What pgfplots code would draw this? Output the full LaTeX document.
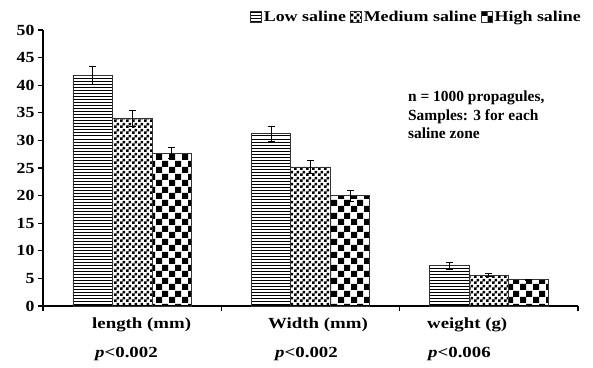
\documentclass[border=0pt]{standalone}
\usepackage{pgfplots}
\pgfplotsset{compat=1.18}
\usepackage{graphicx}
\usepackage{fontspec}
\setmainfont{Liberation Serif}
\usetikzlibrary{patterns}
\newcommand\sx[2]{\scalebox{#1}[1]{#2}}
\pgfdeclarepatternformonly{finecheck}{\pgfpointorigin}{\pgfpoint{6bp}{6bp}}{\pgfpoint{6bp}{6bp}}{%
  \pgfpathrectangle{\pgfpointorigin}{\pgfpoint{3bp}{3bp}}%
  \pgfpathrectangle{\pgfpoint{3bp}{3bp}}{\pgfpoint{3bp}{3bp}}%
  \pgfusepath{fill}}
\pgfdeclarepatternformonly{coarsecheck}{\pgfpointorigin}{\pgfpoint{13bp}{13bp}}{\pgfpoint{13bp}{13bp}}{%
  \pgfpathrectangle{\pgfpointorigin}{\pgfpoint{6.5bp}{6.5bp}}%
  \pgfpathrectangle{\pgfpoint{6.5bp}{6.5bp}}{\pgfpoint{6.5bp}{6.5bp}}%
  \pgfusepath{fill}}
\pgfdeclarepatternformonly{hlines}{\pgfpoint{0bp}{-0.5bp}}{\pgfpoint{4bp}{3bp}}{\pgfpoint{4bp}{3bp}}{%
  \pgfsetlinewidth{1bp}%
  \pgfpathmoveto{\pgfpoint{0bp}{0bp}}\pgfpathlineto{\pgfpoint{4bp}{0bp}}%
  \pgfusepath{stroke}}
\begin{document}
\begin{tikzpicture}[x=1bp,y=1bp]
\useasboundingbox (-43,-61) rectangle (550,306);
\begin{axis}[
  at={(0,0)}, anchor=south west,
  scale only axis, width=535bp, height=276bp,
  xmin=-0.5, xmax=2.5, ymin=0, ymax=50, clip=false,
  axis lines=left, axis line style={line width=1.3bp, -},
  ybar=0pt, bar width=0.2215,
  ytick={0,5,...,50},
  xtick={-0.5,0.5,1.5,2.5}, xticklabels={},
  yticklabel={\sx{1.15}{\pgfmathprintnumber{\tick}}},
  yticklabel style={font=\bfseries\fontsize{15.5}{16}\selectfont},
  /pgf/number format/assume math mode=true,
  tick align=outside, major tick length=5bp,
  tick style={line width=1.3bp, black},
  legend style={at={(1.015,1.01)}, anchor=south east, draw=none, fill=none,
    legend columns=-1, font=\bfseries\fontsize{15}{16}\selectfont,
    /tikz/every even column/.append style={column sep=2bp}},
  legend image code/.code={\draw[#1, line width=0.8bp] (0bp,-5bp) rectangle (11bp,6bp);},
  error bars/y dir=both, error bars/y explicit,
  error bars/error mark options={rotate=90, mark size=3.5bp, line width=0.8bp, black},
  error bars/error bar style={line width=0.8bp, black},
]
\addplot[draw=black!80, line width=0.8bp, pattern=hlines] coordinates {(0,41.8) +- (0,1.6) (1,31.2) +- (0,1.3) (2,7.3) +- (0,0.6)};
\addplot[draw=black!80, line width=0.8bp, pattern=finecheck] coordinates {(0,34.0) +- (0,1.5) (1,25.2) +- (0,1.1) (2,5.6) +- (0,0.3)};
\addplot[draw=black!80, line width=0.8bp, pattern=coarsecheck] coordinates {(0,27.7) +- (0,1.0) (1,20.0) +- (0,1.0) (2,4.8) +- (0,0.1)};
\legend{\sx{1.2}{Low saline},\sx{1.2}{Medium saline},\sx{1.2}{High saline}}
\node[anchor=north west, align=left, font=\bfseries\fontsize{15.5}{19}\selectfont, inner sep=0pt] at (rel axis cs:0.682,0.782) {n = 1000 propagules,\\Samples: 3 for each\\saline zone};
\begin{scope}[every node/.style={anchor=base west, inner sep=0pt, font=\bfseries\fontsize{15.5}{16}\selectfont}]
\node[yshift=-22bp] at (axis cs:-0.2252,0) {\sx{1.22}{length (mm)}};
\node[yshift=-22bp] at (axis cs:0.7617,0) {\sx{1.22}{Width (mm)}};
\node[yshift=-22bp] at (axis cs:1.6533,0) {\sx{1.22}{weight (g)}};
\node[yshift=-51bp] at (axis cs:-0.2084,0) {\sx{1.22}{\textit{p}<0.002}};
\node[yshift=-51bp] at (axis cs:0.8010,0) {\sx{1.22}{\textit{p}<0.002}};
\node[yshift=-51bp] at (axis cs:1.6589,0) {\sx{1.22}{\textit{p}<0.006}};
\end{scope}
\end{axis}
\end{tikzpicture}
\end{document}
